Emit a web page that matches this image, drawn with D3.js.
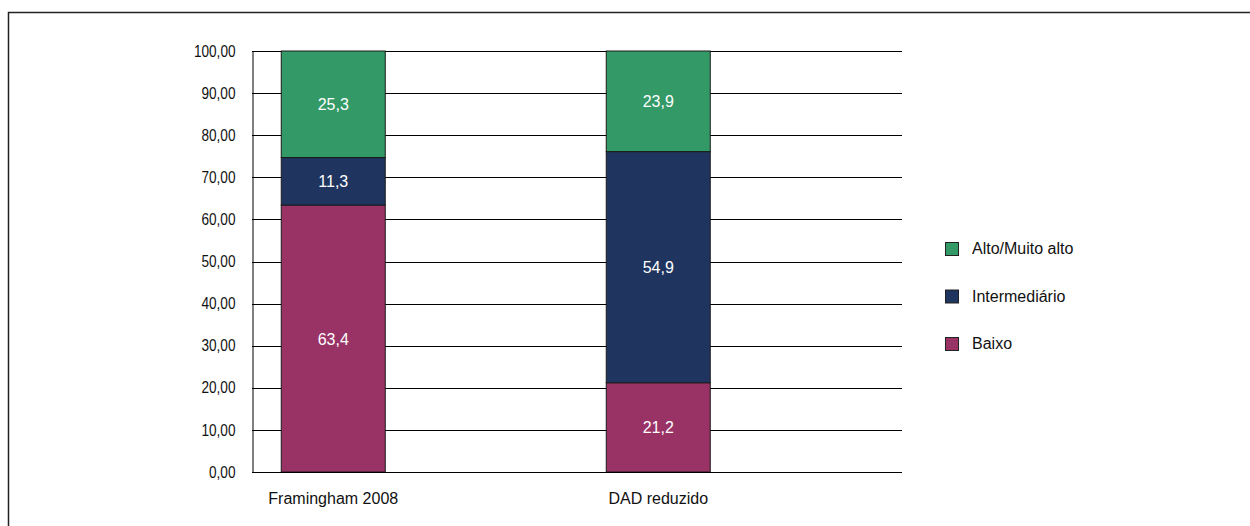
<!DOCTYPE html>
<html>
<head>
<meta charset="utf-8">
<script src="https://cdn.jsdelivr.net/npm/d3@7"></script>
<style>
  body { margin: 0; background: #fff; }
  svg text { font-family: "Liberation Sans", Arial, sans-serif; }
</style>
</head>
<body>
<svg id="chart"></svg>
<script>
// data
let categories = ["Framingham 2008", "DAD reduzido"]
let seriesNames = ["Baixo", "Intermediário", "Alto/Muito alto"]
let baixo = [63.4, 21.2]
let intermediario = [11.3, 54.9]
let alto = [25.3, 23.9]
let yTicks = [0, 10, 20, 30, 40, 50, 60, 70, 80, 90, 100]
let colors = ["#993366", "#1f355f", "#339966"]

let width = 1250
let height = 526
let plot = { left: 252, right: 902, top: 51, bottom: 472 }

let svg = d3.select("#chart").attr("width", width).attr("height", height)

// frame
svg.append("path")
  .attr("d", `M8.5,${height + 5} V12.5 H${width + 5}`)
  .attr("fill", "none")
  .attr("stroke", "#222")
  .attr("stroke-width", 1.5)

let rows = categories.map((c, i) => ({
  cat: c,
  "Baixo": baixo[i],
  "Intermediário": intermediario[i],
  "Alto/Muito alto": alto[i]
}))
let stacked = d3.stack().keys(seriesNames)(rows)

let xScale = d3.scaleBand()
  .domain(categories)
  .range([plot.left, plot.right])
let yScale = d3.scaleLinear()
  .domain([0, 100])
  .range([plot.bottom, plot.top])

let fmt = v => d3.format(".2f")(v).replace(".", ",")

// gridlines
svg.append("g")
  .selectAll("line")
  .data(yTicks)
  .enter()
  .append("line")
    .attr("x1", plot.left)
    .attr("x2", plot.right)
    .attr("y1", d => Math.round(yScale(d)) + 0.5)
    .attr("y2", d => Math.round(yScale(d)) + 0.5)
    .attr("stroke", "#000")
    .attr("stroke-width", 1)

// y axis
let axisY = d3.axisLeft(yScale)
  .tickValues(yTicks)
  .tickFormat(fmt)
  .tickSize(0)
  .tickPadding(17)
let gy = svg.append("g")
  .attr("transform", `translate(${plot.left + 0.5},0)`)
  .call(axisY)
gy.select(".domain").attr("stroke", "#000")
gy.selectAll("text").attr("font-size", 16).attr("fill", "#111")
  .attr("font-family", '"Liberation Sans", Arial, sans-serif')
  .each(function() {
    // narrow look of the original labels
    let w = this.getComputedTextLength()
    d3.select(this).attr("textLength", w * 0.85).attr("lengthAdjust", "spacingAndGlyphs")
  })

// bars
let barW = xScale.bandwidth() * 0.32
let barOff = xScale.bandwidth() * 0.09
stacked.forEach((s, si) => {
  let g = svg.append("g")
  g.selectAll("rect")
    .data(s)
    .enter()
    .append("rect")
      .attr("x", d => xScale(d.data.cat) + barOff)
      .attr("y", d => yScale(d[1]))
      .attr("width", barW)
      .attr("height", d => yScale(d[0]) - yScale(d[1]))
      .attr("fill", colors[si])
      .attr("stroke", "#1a1a1a")
      .attr("stroke-width", 1)
  g.selectAll("text")
    .data(s)
    .enter()
    .append("text")
      .attr("x", d => xScale(d.data.cat) + barOff + barW / 2)
      .attr("y", d => (yScale(d[0]) + yScale(d[1])) / 2 + 6)
      .attr("text-anchor", "middle")
      .attr("font-size", 16)
      .attr("fill", "#fff")
      .text(d => String(d.data[seriesNames[si]]).replace(".", ","))
})

// x axis line
svg.append("line")
  .attr("x1", plot.left).attr("x2", plot.right)
  .attr("y1", plot.bottom + 0.5).attr("y2", plot.bottom + 0.5)
  .attr("stroke", "#000")

// category labels
svg.append("g")
  .selectAll("text")
  .data(categories)
  .enter()
  .append("text")
    .attr("x", d => xScale(d) + barOff + barW / 2)
    .attr("y", 504)
    .attr("text-anchor", "middle")
    .attr("font-size", 16)
    .attr("fill", "#111")
    .text(d => d)

// legend
let legendItems = seriesNames.slice().reverse()
let legend = svg.append("g").attr("transform", "translate(945,242)")
legendItems.forEach((name, i) => {
  let ci = seriesNames.indexOf(name)
  legend.append("rect")
    .attr("x", 0.5).attr("y", i * 47.5 + 0.5)
    .attr("width", 13).attr("height", 13)
    .attr("fill", colors[ci])
    .attr("stroke", "#222")
  legend.append("text")
    .attr("x", 27).attr("y", i * 47.5 + 12)
    .attr("font-size", 16)
    .attr("fill", "#111")
    .text(name)
})
</script>
</body>
</html>
